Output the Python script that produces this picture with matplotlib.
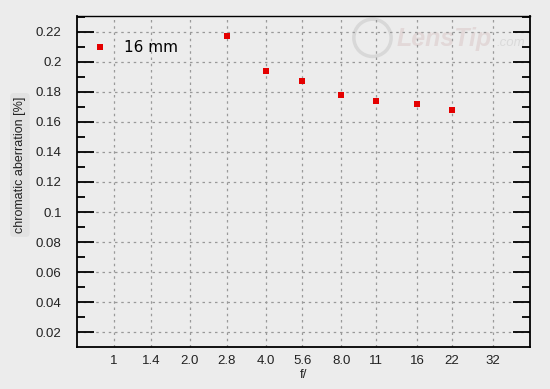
import numpy as np
import matplotlib
matplotlib.use('Agg')
import matplotlib.pyplot as plt
import matplotlib.ticker as ticker

# f-stop axis (log spaced) and measured chromatic aberration
fstops = [1, 1.4, 2.0, 2.8, 4.0, 5.6, 8.0, 11, 16, 22, 32]
flabels = ['1', '1.4', '2.0', '2.8', '4.0', '5.6', '8.0', '11', '16', '22', '32']
f_meas = [2.8, 4.0, 5.6, 8.0, 11, 16, 22]
ca = [0.217, 0.194, 0.187, 0.178, 0.174, 0.172, 0.168]
yticks = [0.02, 0.04, 0.06, 0.08, 0.1, 0.12, 0.14, 0.16, 0.18, 0.2, 0.22]
ylabels = ['0.02', '0.04', '0.06', '0.08', '0.1', '0.12', '0.14', '0.16', '0.18', '0.2', '0.22']

bg = '#ececec'
plt.rcParams['font.family'] = ['Liberation Sans', 'DejaVu Sans']

fig = plt.figure(figsize=(5.5, 3.89), dpi=100, facecolor=bg)
ax = fig.add_axes([77/550, 1-347/389, (529.5-77)/550, (347-16)/389])
ax.set_facecolor(bg)

ax.plot(f_meas, ca, 's', color='#e40000', markersize=4.2, markeredgewidth=0, label='16 mm', zorder=3)

ax.set_xscale('log')
ax.set_xlim(0.713, 44.7)
ax.set_ylim(0.0102, 0.2304)
ax.xaxis.set_major_locator(ticker.FixedLocator(fstops))
ax.xaxis.set_major_formatter(ticker.FixedFormatter(flabels))
ax.xaxis.set_minor_locator(ticker.NullLocator())
ax.yaxis.set_major_locator(ticker.FixedLocator(yticks))
ax.yaxis.set_major_formatter(ticker.FixedFormatter(ylabels))
ax.yaxis.set_minor_locator(ticker.MultipleLocator(0.01))

ax.tick_params(axis='x', length=0, pad=6, labelsize=9.5, colors='#222222')
ax.tick_params(axis='y', which='major', direction='in', length=12, width=1.3,
               left=True, right=True, pad=11, labelsize=9.5, labelcolor='#222222')
ax.tick_params(axis='y', which='minor', direction='in', length=6, width=1.3,
               left=True, right=True)

ax.grid(which='major', color='#999999', linestyle=(0, (2, 3)), linewidth=0.9)
for s in ax.spines.values():
    s.set_linewidth(1.3)
    s.set_color('black')
ax.spines['top'].set_linewidth(1.0)

ax.set_xlabel('f/', fontsize=9.5, color='#222222', labelpad=1.5)
ax.set_ylabel('chromatic aberration [%]', fontsize=9, color='#222222',
              bbox=dict(boxstyle='round,pad=0.3', facecolor='#e2e2e2', edgecolor='none'))
ax.yaxis.set_label_coords(-0.113, 0.55)

leg = ax.legend(loc='upper left', bbox_to_anchor=(0.011, 0.959), frameon=False,
                handlelength=1.0, handletextpad=1.07, borderaxespad=0.3,
                prop={'family': 'DejaVu Sans', 'size': 11})

# watermark
ax.scatter([0.653], [0.934], s=720, transform=ax.transAxes, facecolors='none',
           edgecolors='#d8d8d8', linewidths=2.5, zorder=1)
ax.text(0.707, 0.93, 'LensTip', transform=ax.transAxes, fontsize=18, fontweight='bold',
        fontstyle='italic', color='#e2d8d8', ha='left', va='center', zorder=1)
ax.text(0.99, 0.918, '.com', transform=ax.transAxes, fontsize=9.5, fontstyle='italic',
        color='#dadada', ha='right', va='center', zorder=1)

fig.savefig('out.png', dpi=100, facecolor=bg)
